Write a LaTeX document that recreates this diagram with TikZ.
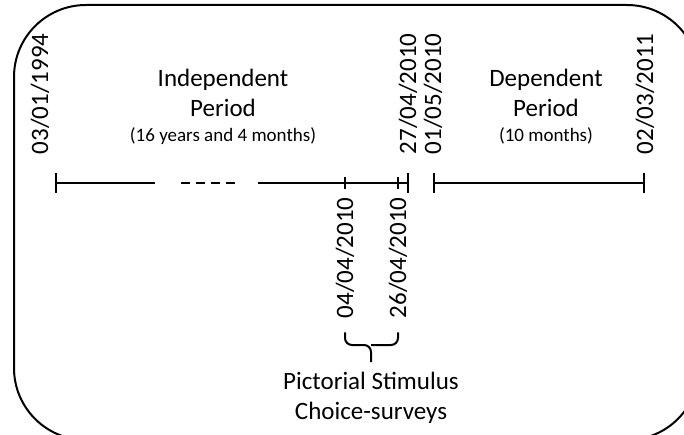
\documentclass[tikz,border=0pt]{standalone}
\usepackage{fontspec}
\setmainfont{Carlito}
\usetikzlibrary{positioning}

\begin{document}
\begin{tikzpicture}
[x=0.5pt,y=0.5pt,
date/.style={rotate=90,inner sep=0pt,anchor=east,font=\fontsize{12.5}{15}\selectfont},
period/.style={align=center,inner sep=0pt,font=\fontsize{12.5}{15}\selectfont},
note/.style={inner sep=0pt,font=\fontsize{9.5}{12}\selectfont},
line/.style={line width=1pt},
gap/.style={line width=1pt,dash pattern=on 4.5pt off 3pt},
brace/.style={line width=1pt,rounded corners=3.5pt}]
\useasboundingbox (0,0) rectangle (684,434);
\clip (0,0) rectangle (684,434);
\draw[line,rounded corners=36pt] (14,-6) rectangle (699,429);
% time points
\coordinate (start) at (56,251);
\coordinate (gapa) at (155,251);
\coordinate (gapb) at (258,251);
\coordinate (pic) at (345,251);
\coordinate (picend) at (398,251);
\coordinate (stop) at (408,251);
\coordinate (dep) at (434,251);
\coordinate (depend) at (644,251);
% lines
\draw[line] (start) -- (gapa);
\draw[gap] (181,251) -- (236,251);
\draw[line] (gapb) -- (stop);
\draw[line] (dep) -- (depend);
\foreach \t in {start,stop,dep,depend}
  \draw[line] ([yshift=-5pt]\t) -- ([yshift=5pt]\t);
\foreach \t in {pic,picend}
  \draw[line] ([yshift=-3pt]\t) -- ([yshift=3pt]\t);
% dates
\node[date] (d1994) at (40,401) {03/01/1994};
\node[date] (d2704) at (408,401) {27/04/2010};
\node[date] (d0105) at (433,401) {01/05/2010};
\node[date] (d2011) at (645,401) {02/03/2011};
\node[date] (apr4) at ([yshift=-7pt]pic) {04/04/2010};
\node[date] (apr26) at ([yshift=-7pt]picend) {26/04/2010};
% surveys
\coordinate (mid) at (371,89);
\coordinate (tip) at (371,72);
\draw[brace] ([yshift=-7pt]apr4.west) |- (mid) -- (tip);
\draw[brace] ([yshift=-7pt]apr26.west) |- (mid);
\node[period] (survey) [below=5pt of tip] {Pictorial Stimulus\\Choice-surveys};
% periods
\node[period] (indep) at (223,341) {Independent\\Period};
\node[note] (indepnote) [below=5pt of indep] {(16 years and 4 months)};
\node[period] (depp) at (546,341) {Dependent\\Period};
\node[note] (deppnote) [below=5pt of depp] {(10 months)};
\end{tikzpicture}
\end{document}
